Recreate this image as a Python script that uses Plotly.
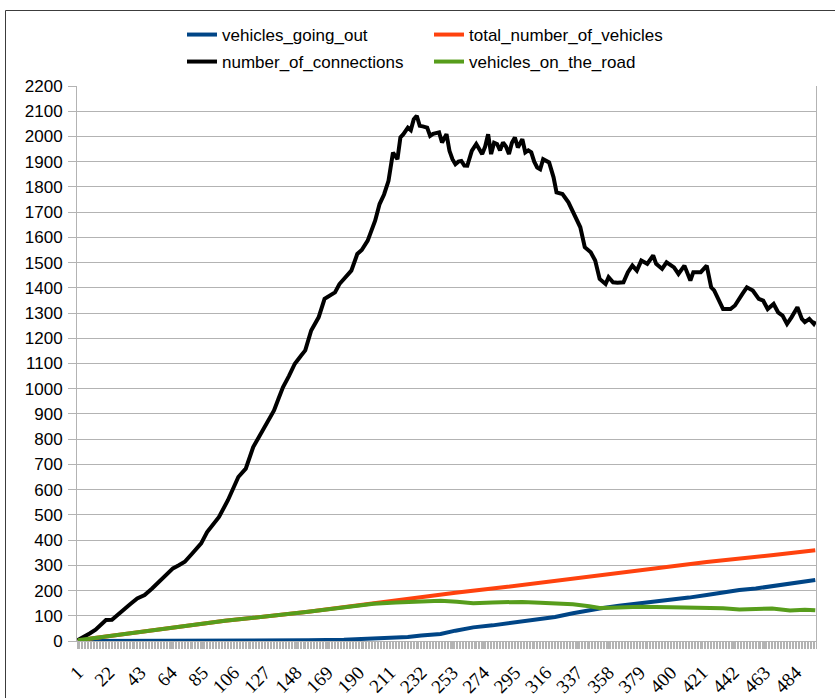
import plotly.graph_objects as go

# ---------------- data ----------------
n_categories = 497
x_tick_values = [1, 22, 43, 64, 85, 106, 127, 148, 169, 190, 211, 232, 253,
                 274, 295, 316, 337, 358, 379, 400, 421, 442, 463, 484]
x_tick_labels = [str(v) for v in x_tick_values]
y_tick_values = list(range(0, 2201, 100))

conn_x = [1, 4, 9, 13, 17, 20, 24, 27, 31, 36, 41, 46, 51, 55, 59, 65, 69, 73, 78, 84,
          88, 92, 96, 102, 106, 109, 114, 119, 122, 126, 129, 133, 136, 139, 143, 147,
          151, 154, 158, 163, 167, 171, 174, 177, 181, 185, 189, 192, 196, 201, 204,
          207, 210, 213, 216, 218, 220, 223, 225, 227, 229, 231, 233, 236, 238, 240,
          244, 246, 249, 251, 253, 255, 257, 259, 261, 263, 266, 269, 271, 273, 275,
          277, 279, 281, 283, 285, 287, 289, 291, 293, 295, 297, 300, 302, 304, 306,
          308, 310, 312, 314, 318, 321, 323, 327, 331, 333, 337, 339, 342, 346, 349,
          352, 356, 358, 361, 364, 368, 371, 374, 377, 380, 384, 388, 390, 394, 397,
          402, 405, 409, 413, 415, 420, 424, 427, 429, 432, 435, 440, 443, 448, 451,
          455, 459, 462, 465, 469, 472, 475, 478, 481, 485, 488, 490, 493, 496, 497]
conn_y = [3, 12, 30, 45, 65, 83, 84, 100, 123, 145, 169, 182, 208, 230, 254, 288, 300,
          314, 347, 387, 432, 462, 492, 558, 610, 650, 683, 769, 800, 842, 875, 914, 960,
          1006, 1050, 1099, 1130, 1152, 1231, 1283, 1356, 1370, 1382, 1415, 1440, 1468,
          1534, 1550, 1587, 1666, 1732, 1770, 1824, 1936, 1910, 1996, 2009, 2035, 2025,
          2068, 2082, 2042, 2040, 2035, 2002, 2010, 2016, 1976, 2009, 1943, 1910, 1890,
          1900, 1903, 1885, 1884, 1943, 1970, 1950, 1930, 1960, 2009, 1930, 1975, 1970,
          1945, 1976, 1960, 1930, 1975, 1996, 1956, 1989, 1937, 1945, 1937, 1900, 1877,
          1870, 1910, 1897, 1838, 1778, 1772, 1739, 1712, 1666, 1640, 1561, 1541, 1508,
          1435, 1415, 1442, 1422, 1420, 1422, 1462, 1488, 1468, 1508, 1495, 1528, 1495,
          1475, 1501, 1481, 1455, 1488, 1429, 1462, 1462, 1488, 1402, 1390, 1356, 1316,
          1316, 1330, 1376, 1402, 1389, 1356, 1349, 1316, 1336, 1303, 1290, 1257, 1283,
          1323, 1277, 1264, 1277, 1257, 1268]

total_x = [1, 30, 66, 100, 156, 200, 223, 245, 255, 290, 334, 379, 424, 469, 497]
total_y = [3, 25, 54, 80, 116, 150, 168, 184, 191, 215, 248, 281, 313, 341, 360]

road_x = [1, 30, 66, 100, 156, 200, 215, 230, 245, 256, 267, 280, 290, 300, 312, 325,
          334, 345, 352, 360, 379, 400, 424, 435, 446, 455, 468, 480, 490, 497]
road_y = [3, 25, 54, 80, 116, 148, 153, 157, 160, 156, 150, 153, 156, 155, 152, 150,
          146, 138, 131, 132, 136, 134, 133, 130, 125, 127, 129, 121, 124, 122]

out_x = [1, 100, 156, 180, 201, 223, 232, 245, 255, 267, 280, 290, 300, 312, 322, 334,
         343, 352, 365, 379, 390, 401, 412, 424, 435, 446, 457, 469, 480, 490, 497]
out_y = [0, 0, 3, 5, 9, 16, 22, 28, 41, 54, 62, 70, 75, 86, 95, 110, 120, 129, 140,
         149, 157, 165, 172, 182, 193, 202, 208, 218, 227, 235, 242]

# ---------------- figure ----------------
GRID = "#b3b3b3"
fig = go.Figure()

fig.add_trace(go.Scatter(x=out_x, y=out_y, mode="lines", name="vehicles_going_out",
                         line=dict(color="#004586", width=4), legend="legend"))
fig.add_trace(go.Scatter(x=total_x, y=total_y, mode="lines", name="total_number_of_vehicles",
                         line=dict(color="#ff420e", width=4), legend="legend2"))
fig.add_trace(go.Scatter(x=conn_x, y=conn_y, mode="lines", name="number_of_connections",
                         line=dict(color="#000000", width=4), legend="legend3"))
fig.add_trace(go.Scatter(x=road_x, y=road_y, mode="lines", name="vehicles_on_the_road",
                         line=dict(color="#579d1c", width=4), legend="legend4"))

W, H = 835, 698
L, R, T, B = 77, 19, 86, 57
pw, ph = W - L - R, H - T - B


def px_x(px):
    return (px - L) / pw


def px_y(py):
    return (H - B - py) / ph


leg_font = dict(family="Liberation Sans, Arial, sans-serif", size=17, color="#000000")


def leg(xpx, ypx):
    return dict(x=xpx / W, y=1 - ypx / H, xref="container", yref="container",
                xanchor="left", yanchor="middle", orientation="h",
                font=leg_font, bgcolor="rgba(0,0,0,0)", borderwidth=0,
                itemwidth=30, tracegroupgap=0)


fig.update_layout(
    width=W, height=H,
    margin=dict(l=L, r=R, t=T, b=B, autoexpand=False),
    paper_bgcolor="white", plot_bgcolor="white",
    showlegend=True,
    legend=leg(182, 35),
    legend2=leg(429, 35),
    legend3=leg(182, 62),
    legend4=leg(429, 62),
    xaxis=dict(
        range=[0.5, n_categories + 0.5],
        tickmode="array", tickvals=x_tick_values, ticktext=x_tick_labels,
        tickangle=-45,
        tickfont=dict(family="Liberation Serif, Times New Roman, serif", size=19, color="#000000"),
        ticks="outside", ticklen=7, tickcolor=GRID, tickwidth=1,
        ticklabelstandoff=5,
        minor=dict(dtick=1, tick0=0.5, ticks="outside", ticklen=7, tickcolor=GRID, tickwidth=1,
                   showgrid=False),
        showgrid=False, zeroline=False,
        showline=True, linecolor=GRID, linewidth=1,
    ),
    yaxis=dict(
        range=[0, 2200],
        tickmode="array", tickvals=y_tick_values,
        tickfont=dict(family="Liberation Sans, Arial, sans-serif", size=17, color="#000000"),
        ticks="outside", ticklen=8, tickcolor=GRID, tickwidth=1,
        ticklabelstandoff=2,
        showgrid=True, gridcolor=GRID, gridwidth=1,
        zeroline=False,
        showline=True, linecolor=GRID, linewidth=1, mirror=True,
    ),
    shapes=[
        dict(type="line", xref="paper", yref="paper",
             x0=px_x(5.5), x1=px_x(5.5), y0=px_y(10.5), y1=px_y(720),
             line=dict(color="#3c3c3c", width=1)),
        dict(type="line", xref="paper", yref="paper",
             x0=px_x(5.5), x1=px_x(860), y0=px_y(10.5), y1=px_y(10.5),
             line=dict(color="#3c3c3c", width=1)),
    ],
)

fig.write_html(
    "out.html",
    config={"displayModeBar": False},
    post_script="document.body.style.margin='0';document.body.style.padding='0';",
)
